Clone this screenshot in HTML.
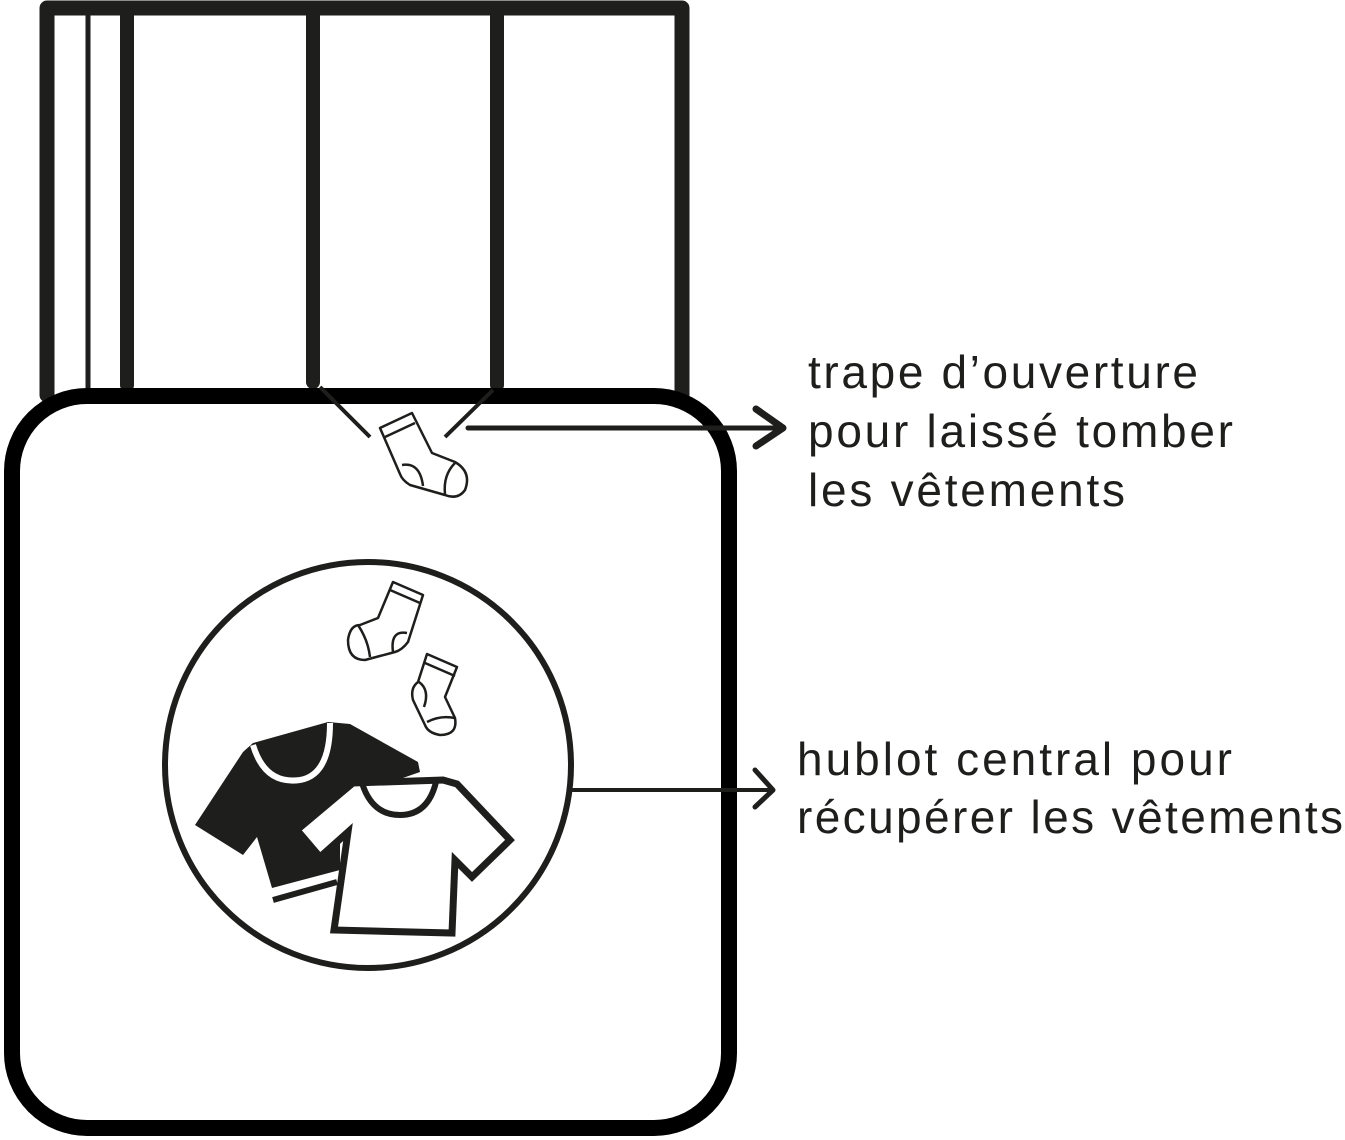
<!DOCTYPE html>
<html><head><meta charset="utf-8"><style>html,body{margin:0;padding:0;background:#fff}svg{display:block}</style></head>
<body>
<svg width="1345" height="1140" viewBox="0 0 1345 1140" xmlns="http://www.w3.org/2000/svg">
<rect width="1345" height="1140" fill="#fff"/>
<g stroke="#1e1e1c" stroke-linecap="round" fill="none">
<path d="M47,395 L47,8 L682,8 L682,395" stroke-width="15" stroke-linejoin="round"/>
<line x1="88" y1="14" x2="88" y2="392" stroke-width="5"/>
<line x1="127" y1="14" x2="127" y2="385" stroke-width="14"/>
<line x1="313" y1="14" x2="313" y2="382" stroke-width="14"/>
<line x1="497" y1="14" x2="497" y2="385" stroke-width="14"/>
</g>
<rect x="12" y="396" width="717" height="732" rx="75" ry="75" fill="none" stroke="#000" stroke-width="16"/>
<g stroke="#1e1e1c" stroke-width="4" fill="none">
<line x1="320" y1="387" x2="370" y2="437"/>
<line x1="493" y1="390" x2="445" y2="437"/>
</g>
<g stroke="#1e1e1c" stroke-width="2.5" fill="#fff" stroke-linejoin="round">
<path d="M380,428 L412,413 L432,453 L455,462 Q472,472 465,490 Q458,500 445,495 L410,485 Q402,480 400,474 Z"/>
<line x1="385" y1="437" x2="415" y2="423"/>
<path d="M402,465 Q420,462 423,486" fill="none"/>
<path d="M455,463 Q443,475 445,494" fill="none"/>
<path d="M393,582 L423,595 L408,642 Q402,650 395,652 L365,660 Q348,660 348,640 Q350,625 360,625 L378,618 Z"/>
<line x1="390" y1="590" x2="420" y2="603"/>
<path d="M358,625 Q368,640 370,657" fill="none"/>
<path d="M407,633 Q390,630 393,652" fill="none"/>
<path d="M427,654 L457,667 L445,697 L455,718 Q458,735 440,735 Q428,733 425,725 L413,700 Q410,688 418,682 Z"/>
<line x1="425" y1="663" x2="455" y2="676"/>
<path d="M419,682 Q430,690 424,707" fill="none"/>
<path d="M427,722 Q440,715 455,718" fill="none"/>
</g>
<circle cx="368" cy="765" r="203" fill="none" stroke="#1e1e1c" stroke-width="6"/>
<path d="M243,752 L195,825 L243,855 L257,837 L272,888 L340,870 L340,800 L420,772 L418,762 L350,724 L328,722 L253,743 Z" fill="#1e1e1c"/>
<path d="M253,745 Q265,785 300,780 Q330,775 330,723" fill="none" stroke="#fff" stroke-width="6"/>
<path d="M273,900 L337,882" stroke="#1e1e1c" stroke-width="6"/>
<path d="M353,783 L443,780 L457,784 L510,840 L472,877 L455,860 L452,933 L334,930 L348,832 L320,857 L297,830 Z" fill="#fff" stroke="#1e1e1c" stroke-width="7" stroke-linejoin="miter"/>
<path d="M362,783 Q372,815 400,815 Q428,815 436,782" fill="none" stroke="#1e1e1c" stroke-width="6"/>
<path d="M346,916 L440,920" stroke="#fff" stroke-width="5"/>
<g stroke="#1e1e1c" stroke-linecap="round" stroke-linejoin="round" fill="none">
<line x1="468" y1="428" x2="780" y2="428" stroke-width="5"/>
<polyline points="756,409 783,428 756,446" stroke-width="7"/>
<line x1="573" y1="790" x2="772" y2="790" stroke-width="4"/>
<polyline points="755,770 773,790 755,807" stroke-width="5"/>
</g>
<g font-family="Liberation Sans, sans-serif" font-size="46" fill="#1e1e1c">
<text x="808" y="388" textLength="390">trape d’ouverture</text>
<text x="808" y="447" textLength="425">pour laissé tomber</text>
<text x="808" y="506" textLength="317">les vêtements</text>
<text x="797" y="775" textLength="435">hublot central pour</text>
<text x="797" y="833" textLength="546">récupérer les vêtements</text>
</g>
</svg>
</body></html>
